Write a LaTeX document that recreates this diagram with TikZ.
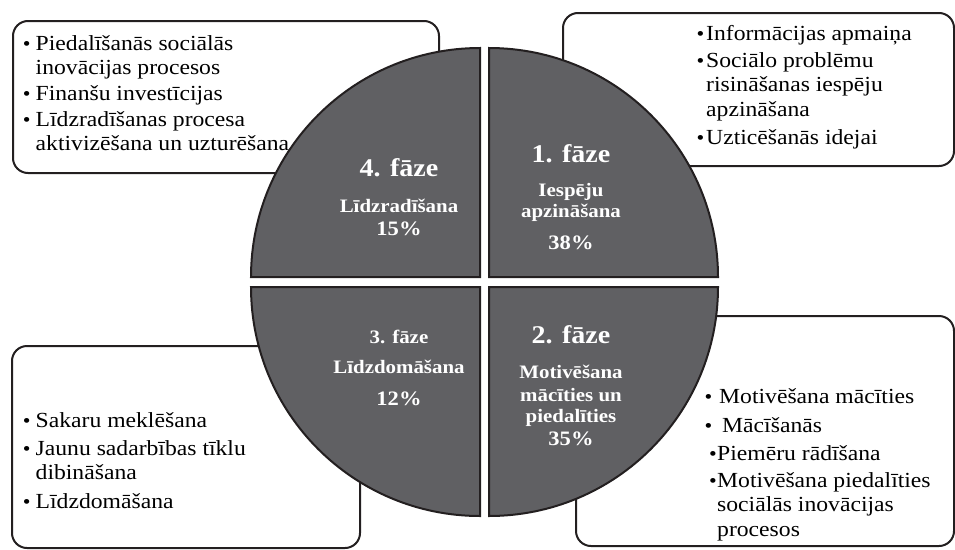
\documentclass[tikz,border=0pt]{standalone}
\usepackage{fontspec}
\setmainfont{Liberation Serif}[FakeStretch=1.1]
\definecolor{quadgray}{RGB}{96,96,99}
\definecolor{inkc}{RGB}{35,31,32}
\newcommand\fsz[1]{\fontsize{#1}{#1}\selectfont}
\newcommand\blt[1]{\llap{{\fontsize{20}{20}\selectfont •}\hspace{#1}}}
\newcommand\itmtext[1]{\begin{tabular}[t]{@{}l@{}}#1\end{tabular}}
\begin{document}
\begin{tikzpicture}[x=1pt,y=1pt,
  box/.style={draw=inkc, line width=2pt, rounded corners=15pt, fill=white, inner sep=0pt},
  quad/.style={draw=inkc, line width=2pt, fill=quadgray},
  itm/.style={anchor=base west, inner sep=0pt, text=black, font=\fontsize{21.5}{24.5}\selectfont},
  ttl/.style={anchor=base, inner sep=0pt, text=white, font=\bfseries\fsz{25.5}},
  sub/.style={anchor=base, inner sep=0pt, text=white, font=\bfseries\fsz{19}},
  pct/.style={anchor=base, inner sep=0pt, text=white, font=\bfseries\fsz{20.5}}]
\useasboundingbox (0,0) rectangle (955,-549);
% boxes
\node[box, anchor=north west, minimum width=426pt, minimum height=152pt] (box4) at (12,-20) {};
\node[box, anchor=north west, minimum width=391pt, minimum height=153pt] (box1) at (562,-12) {};
\node[box, anchor=north west, minimum width=348pt, minimum height=202pt] (box3) at (11,-345) {};
\node[box, anchor=north west, minimum width=378pt, minimum height=230pt] (box2) at (575,-315) {};
% quadrants
\draw[quad] (489,-277) -- (489,-48) arc[start angle=90,end angle=0,radius=229pt] -- cycle;
\draw[quad] (480,-277) -- (251,-277) arc[start angle=180,end angle=90,radius=229pt] -- cycle;
\draw[quad] (480,-287) -- (480,-516) arc[start angle=270,end angle=180,radius=229pt] -- cycle;
\draw[quad] (489,-287) -- (718,-287) arc[start angle=0,end angle=-90,radius=229pt] -- cycle;
% box texts
\node[itm] (t4a) at (35.5,-50) {\itmtext{\blt{5pt}Piedalīšanās sociālās\\inovācijas procesos}};
\node[itm] (t4b) at (35.5,-100) {\itmtext{\blt{5pt}Finanšu investīcijas}};
\node[itm] (t4c) at (35.5,-126) {\itmtext{\blt{5pt}Līdzradīšanas procesa\\aktivizēšana un uzturēšana}};
\node[itm] (t1a) at (706,-40) {\itmtext{\blt{2pt}Informācijas apmaiņa}};
\node[itm] (t1b) at (706,-67) {\itmtext{\blt{2pt}Sociālo problēmu\\risināšanas iespēju\\apzināšana}};
\node[itm] (t1c) at (706,-144) {\itmtext{\blt{2pt}Uzticēšanās idejai}};
\node[itm] (t3a) at (35.5,-427) {\itmtext{\blt{5pt}Sakaru meklēšana}};
\node[itm] (t3b) at (35.5,-455) {\itmtext{\blt{5pt}Jaunu sadarbības tīklu\\dibināšana}};
\node[itm] (t3c) at (35.5,-508) {\itmtext{\blt{5pt}Līdzdomāšana}};
\node[itm] (t2a) at (719,-403) {\itmtext{\blt{7pt}Motivēšana mācīties}};
\node[itm] (t2b) at (722,-432) {\itmtext{\blt{10pt}Mācīšanās}};
\node[itm] (t2c) at (717,-460) {\itmtext{\blt{0.5pt}Piemēru rādīšana}};
\node[itm] (t2d) at (717,-487) {\itmtext{\blt{0.5pt}Motivēšana piedalīties\\sociālās inovācijas\\procesos}};
% quadrant texts
\node[ttl] (q4a) at (399,-176) {4. fāze};
\node[sub] (q4b) at (399,-212) {Līdzradīšana};
\node[pct] (q4c) at (399,-235) {15\%};
\node[ttl] (q1a) at (571,-162) {1. fāze};
\node[sub] (q1b) at (571,-196) {Iespēju};
\node[sub] (q1c) at (571,-217) {apzināšana};
\node[pct] (q1d) at (571,-249) {38\%};
\node[sub] (q3a) at (399,-343) {3. fāze};
\node[sub] (q3b) at (399,-373) {Līdzdomāšana};
\node[pct] (q3c) at (399,-405) {12\%};
\node[ttl] (q2a) at (571,-343) {2. fāze};
\node[sub] (q2b) at (571,-378) {Motivēšana};
\node[sub] (q2c) at (571,-401) {mācīties un};
\node[sub] (q2d) at (571,-422) {piedalīties};
\node[pct] (q2e) at (571,-445) {35\%};
\end{tikzpicture}
\end{document}
